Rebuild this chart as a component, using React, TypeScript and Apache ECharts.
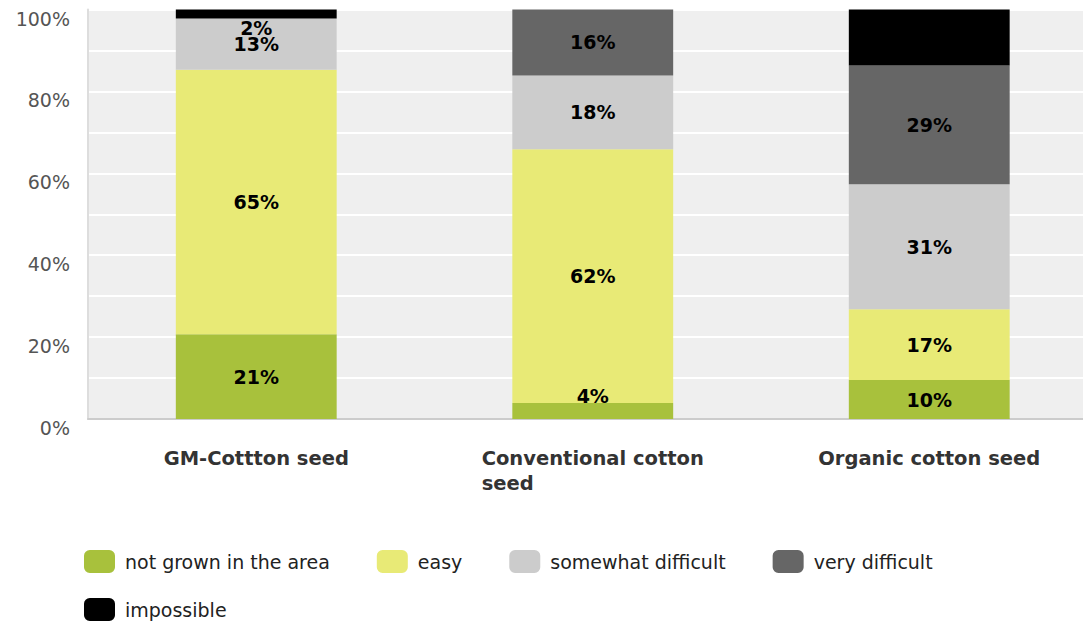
import React, { useEffect, useRef } from 'react';
import * as echarts from 'echarts';

const categories = ['GM-Cottton seed', 'Conventional cotton seed', 'Organic cotton seed'];
const seriesNames = ['not grown in the area', 'easy', 'somewhat difficult', 'very difficult', 'impossible'];
const notGrown = [20.7, 3.9, 9.5];
const easy = [64.6, 62.0, 17.3];
const somewhatDifficult = [12.5, 18.0, 30.5];
const veryDifficult = [0, 16.1, 29.0];
const impossible = [2.2, 0, 13.7];
const yTickValues = [0, 20, 40, 60, 80, 100];

const seriesValues = [notGrown, easy, somewhatDifficult, veryDifficult, impossible];
const seriesColors = ['#a8c13c', '#e8ea76', '#cccccc', '#666666', '#000000'];
const labelOffsets: Record<string, number[]> = {
  '4-0': [0, 14],
  '0-1': [0, -15],
};

const FONT = '"DejaVu Sans", sans-serif';

function wrapLabel(v: string): string {
  if (v.length <= 20) return '{a|' + v + '}';
  const idx = v.lastIndexOf(' ');
  return '{a|' + v.slice(0, idx) + '}\n{a|' + v.slice(idx + 1) + '}';
}

export default function App() {
  const ref = useRef<HTMLDivElement>(null);
  useEffect(() => {
    if (!ref.current) return;
    const chart = echarts.init(ref.current, undefined, { renderer: 'svg' });
    const series = seriesNames.map((name, si) => ({
      name,
      type: 'bar',
      stack: 'total',
      barWidth: '47.8%',
      itemStyle: { color: seriesColors[si] },
      label: {
        show: true,
        position: 'inside',
        color: '#000',
        fontFamily: FONT,
        fontWeight: 'bold',
        fontSize: 19,
        formatter: (p: any) => (p.value > 0 ? Math.round(p.value) + '%' : ''),
      },
      data: seriesValues[si].map((v, ci) => {
        const off = labelOffsets[si + '-' + ci];
        return off ? { value: v, label: { offset: off } } : v;
      }),
    }));
    const legendText = { fontFamily: FONT, fontSize: 19, color: '#222', padding: [0, 0, 0, 5] };
    chart.setOption({
      animation: false,
      grid: {
        left: 88,
        top: 9.5,
        height: 409.5,
        width: 1009.5,
        show: true,
        backgroundColor: '#efefef',
        borderWidth: 0,
      },
      legend: [
        {
          data: seriesNames.slice(0, 4),
          left: 84,
          top: 550,
          padding: 0,
          itemGap: 47,
          itemWidth: 31,
          itemHeight: 23,
          icon: 'roundRect',
          textStyle: legendText,
          selectedMode: false,
        },
        {
          data: seriesNames.slice(4),
          left: 84,
          top: 598,
          padding: 0,
          itemWidth: 31,
          itemHeight: 23,
          icon: 'roundRect',
          textStyle: legendText,
          selectedMode: false,
        },
      ],
      xAxis: {
        type: 'category',
        data: categories,
        axisLine: { show: true, lineStyle: { color: '#cccccc', width: 2 } },
        axisTick: { show: false },
        axisLabel: {
          margin: 27,
          formatter: wrapLabel,
          rich: {
            a: {
              align: 'left',
              fontFamily: FONT,
              fontWeight: 'bold',
              fontSize: 19.5,
              lineHeight: 25,
              color: '#333',
            },
          },
        },
      },
      yAxis: {
        type: 'value',
        min: 0,
        max: 100,
        interval: 10,
        axisLine: { show: true, lineStyle: { color: '#dddddd', width: 2 } },
        axisTick: { show: false },
        splitLine: { show: true, lineStyle: { color: '#ffffff', width: 2 } },
        axisLabel: {
          margin: 18,
          fontFamily: FONT,
          fontSize: 19,
          color: '#555',
          verticalAlign: 'top',
          lineHeight: 18,
          formatter: (v: number) => (yTickValues.includes(v) ? v + '%' : ''),
        },
      },
      series,
    });
    return () => chart.dispose();
  }, []);
  return (
    <div style={{ position: 'fixed', left: 0, top: 0, width: 1083, height: 622, overflow: 'hidden', background: '#fff' }}>
      <div ref={ref} style={{ width: 1100, height: 622 }} />
    </div>
  );
}
